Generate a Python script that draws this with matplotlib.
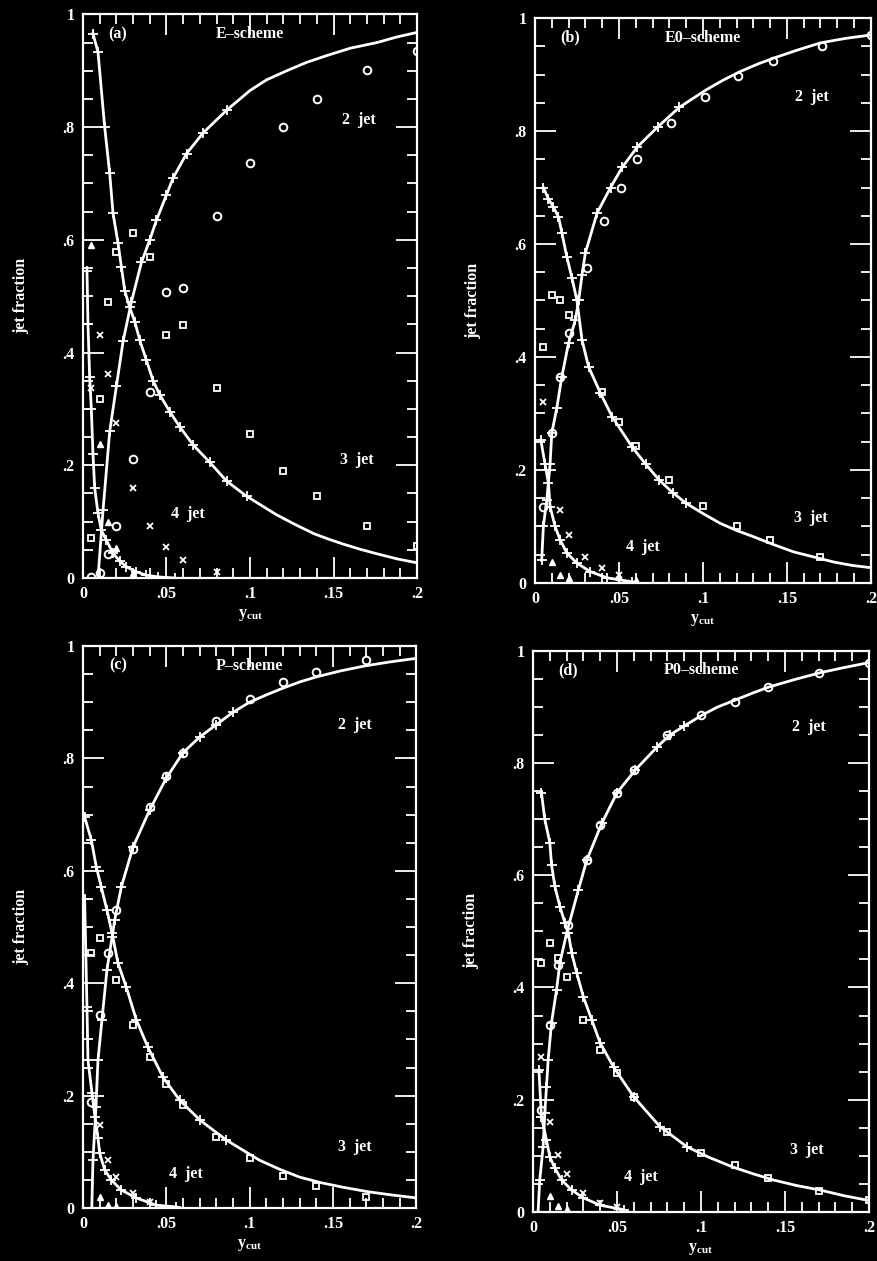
import matplotlib
matplotlib.use('Agg')
import matplotlib.pyplot as plt
from matplotlib.ticker import FixedLocator, FixedFormatter, MultipleLocator

plt.rcParams['font.family'] = ['Liberation Serif', 'DejaVu Serif']
plt.rcParams['font.weight'] = 'bold'
plt.rcParams['mathtext.fontset'] = 'custom'
plt.rcParams['mathtext.rm'] = 'Liberation Serif'
plt.rcParams['mathtext.bf'] = 'Liberation Serif:bold'

XTICKS = [0, 0.05, 0.1, 0.15, 0.2]
XTICK_LABELS = ['0', '.05', '.1', '.15', '.2']
YTICKS = [0, 0.2, 0.4, 0.6, 0.8, 1.0]
YTICK_LABELS = ['0', '.2', '.4', '.6', '.8', '1']

# ---- (a) E-scheme ----
a2_x = [0.009, 0.012, 0.016, 0.020, 0.024, 0.029, 0.035, 0.040, 0.044, 0.050, 0.054, 0.062,
        0.072, 0.086, 0.100, 0.110, 0.122, 0.134, 0.146, 0.160, 0.176, 0.188, 0.200]
a2_y = [0.0, 0.12, 0.26, 0.34, 0.42, 0.49, 0.56, 0.60, 0.635, 0.68, 0.71, 0.753,
        0.79, 0.83, 0.865, 0.884, 0.90, 0.915, 0.927, 0.94, 0.95, 0.96, 0.968]
a3_x = [0.006, 0.009, 0.013, 0.016, 0.018, 0.021, 0.023, 0.025, 0.028, 0.031, 0.034, 0.038,
        0.042, 0.046, 0.052, 0.058, 0.066, 0.076, 0.086, 0.098, 0.116, 0.127, 0.138, 0.147,
        0.156, 0.166, 0.176, 0.188, 0.200]
a3_y = [0.966, 0.933, 0.80, 0.718, 0.647, 0.594, 0.552, 0.51, 0.48, 0.455, 0.422, 0.386,
        0.35, 0.325, 0.295, 0.268, 0.236, 0.205, 0.172, 0.145, 0.112, 0.095, 0.079, 0.069,
        0.06, 0.051, 0.043, 0.034, 0.027]
a4_x = [0.0024, 0.003, 0.004, 0.005, 0.006, 0.007, 0.009, 0.011, 0.014, 0.018, 0.022, 0.026,
        0.032, 0.038, 0.045, 0.055]
a4_y = [0.545, 0.45, 0.357, 0.30, 0.22, 0.16, 0.115, 0.085, 0.067, 0.044, 0.03, 0.02,
        0.011, 0.005, 0.002, 0.0]
a_circ_x = [0.005, 0.010, 0.015, 0.020, 0.030, 0.040, 0.050, 0.060, 0.080, 0.100, 0.120, 0.140, 0.170, 0.200]
a_circ_y = [0.002, 0.009, 0.042, 0.092, 0.211, 0.33, 0.507, 0.515, 0.643, 0.737, 0.80, 0.849, 0.902, 0.935]
a_sq_x = [0.005, 0.010, 0.015, 0.020, 0.030, 0.040, 0.050, 0.060, 0.080, 0.100, 0.120, 0.140, 0.170, 0.200]
a_sq_y = [0.071, 0.317, 0.49, 0.578, 0.612, 0.569, 0.431, 0.449, 0.337, 0.255, 0.19, 0.146, 0.092, 0.057]
a_x4_x = [0.005, 0.010, 0.015, 0.020, 0.030, 0.040, 0.050, 0.060, 0.080]
a_x4_y = [0.337, 0.431, 0.362, 0.275, 0.16, 0.092, 0.055, 0.032, 0.011]
a_tri_x = [0.005, 0.010, 0.015, 0.020, 0.030]
a_tri_y = [0.59, 0.237, 0.10, 0.053, 0.009]

# ---- (b) E0-scheme ----
b2_x = [0.004, 0.005, 0.007, 0.009, 0.010, 0.013, 0.016, 0.020, 0.024, 0.026, 0.028, 0.030,
        0.037, 0.045, 0.052, 0.061, 0.073, 0.086, 0.102, 0.112, 0.122, 0.133, 0.144, 0.157,
        0.170, 0.185, 0.200]
b2_y = [0.04, 0.10, 0.147, 0.21, 0.265, 0.31, 0.365, 0.425, 0.465, 0.50, 0.545, 0.584,
        0.655, 0.70, 0.736, 0.772, 0.807, 0.842, 0.873, 0.89, 0.905, 0.919, 0.931, 0.944,
        0.956, 0.964, 0.97]
b3_x = [0.005, 0.008, 0.011, 0.014, 0.016, 0.019, 0.022, 0.025, 0.028, 0.032, 0.039, 0.046,
        0.058, 0.066, 0.074, 0.082, 0.090, 0.100, 0.110, 0.120, 0.130, 0.142, 0.154, 0.166,
        0.178, 0.189, 0.200]
b3_y = [0.70, 0.68, 0.665, 0.648, 0.62, 0.577, 0.54, 0.50, 0.43, 0.382, 0.336, 0.294,
        0.24, 0.21, 0.182, 0.16, 0.141, 0.123, 0.106, 0.093, 0.082, 0.068, 0.055, 0.046,
        0.037, 0.031, 0.027]
b4_x = [0.0035, 0.006, 0.008, 0.009, 0.012, 0.015, 0.019, 0.025, 0.033, 0.043, 0.058]
b4_y = [0.253, 0.21, 0.177, 0.135, 0.10, 0.076, 0.053, 0.035, 0.02, 0.009, 0.002]
b_circ_x = [0.005, 0.010, 0.015, 0.020, 0.031, 0.041, 0.051, 0.061, 0.081, 0.101, 0.121, 0.142, 0.171, 0.200]
b_circ_y = [0.135, 0.265, 0.365, 0.442, 0.557, 0.64, 0.70, 0.75, 0.815, 0.86, 0.897, 0.924, 0.95, 0.97]
b_sq_x = [0.005, 0.010, 0.015, 0.020, 0.040, 0.050, 0.060, 0.080, 0.100, 0.120, 0.140, 0.170]
b_sq_y = [0.418, 0.51, 0.50, 0.474, 0.338, 0.285, 0.242, 0.182, 0.136, 0.10, 0.076, 0.046]
b_x4_x = [0.005, 0.015, 0.020, 0.030, 0.040, 0.050]
b_x4_y = [0.32, 0.13, 0.085, 0.046, 0.027, 0.014]
b_tri_x = [0.010, 0.015, 0.020, 0.050, 0.060]
b_tri_y = [0.037, 0.014, 0.008, 0.010, 0.006]

# ---- (c) P-scheme ----
c2_x = [0.0053, 0.006, 0.0078, 0.009, 0.0114, 0.0144, 0.0175, 0.019, 0.023, 0.030, 0.040,
        0.050, 0.060, 0.070, 0.080, 0.090, 0.100, 0.110, 0.120, 0.130, 0.140, 0.155, 0.170,
        0.185, 0.200]
c2_y = [0.0, 0.085, 0.18, 0.263, 0.335, 0.424, 0.482, 0.512, 0.571, 0.642, 0.708,
        0.765, 0.81, 0.838, 0.86, 0.882, 0.90, 0.913, 0.925, 0.936, 0.945, 0.956, 0.965,
        0.972, 0.978]
c3_x = [0.001, 0.005, 0.008, 0.011, 0.0144, 0.0174, 0.021, 0.026, 0.032, 0.039, 0.048, 0.058,
        0.070, 0.086, 0.106, 0.118, 0.130, 0.143, 0.156, 0.171, 0.186, 0.200]
c3_y = [0.696, 0.655, 0.607, 0.571, 0.53, 0.49, 0.436, 0.393, 0.335, 0.286, 0.233, 0.192,
        0.157, 0.121, 0.085, 0.069, 0.055, 0.045, 0.037, 0.029, 0.023, 0.018]
c4_x = [0.001, 0.0024, 0.003, 0.0054, 0.0072, 0.009, 0.010, 0.013, 0.017, 0.023, 0.032, 0.044, 0.056]
c4_y = [0.55, 0.358, 0.263, 0.205, 0.162, 0.125, 0.098, 0.068, 0.05, 0.032, 0.018, 0.005, 0.002]
c_circ_x = [0.005, 0.010, 0.015, 0.020, 0.030, 0.040, 0.050, 0.060, 0.080, 0.100, 0.120, 0.140, 0.170]
c_circ_y = [0.189, 0.343, 0.454, 0.53, 0.639, 0.713, 0.769, 0.81, 0.867, 0.906, 0.936, 0.954, 0.975]
c_sq_x = [0.005, 0.010, 0.020, 0.030, 0.040, 0.050, 0.060, 0.080, 0.100, 0.120, 0.140, 0.170]
c_sq_y = [0.453, 0.48, 0.405, 0.325, 0.268, 0.22, 0.183, 0.126, 0.089, 0.057, 0.039, 0.019]
c_x4_x = [0.010, 0.015, 0.020, 0.030, 0.040]
c_x4_y = [0.148, 0.085, 0.056, 0.026, 0.011]
c_tri_x = [0.010, 0.015, 0.020]
c_tri_y = [0.02, 0.005, 0.004]

# ---- (d) P0-scheme ----
d2_x = [0.003, 0.004, 0.006, 0.007, 0.008, 0.009, 0.011, 0.014, 0.016, 0.020, 0.027, 0.032,
        0.041, 0.050, 0.061, 0.074, 0.0815, 0.090, 0.101, 0.110, 0.121, 0.131, 0.141, 0.156,
        0.171, 0.185, 0.200]
d2_y = [0.0, 0.057, 0.116, 0.176, 0.223, 0.271, 0.337, 0.396, 0.444, 0.497, 0.574, 0.627,
        0.693, 0.747, 0.788, 0.829, 0.85, 0.866, 0.886, 0.9, 0.913, 0.925, 0.936, 0.949,
        0.961, 0.97, 0.979]
d3_x = [0.005, 0.007, 0.010, 0.011, 0.013, 0.016, 0.019, 0.021, 0.023, 0.026, 0.030, 0.035,
        0.040, 0.048, 0.060, 0.0756, 0.0917, 0.105, 0.119, 0.131, 0.143, 0.157, 0.171, 0.185, 0.199]
d3_y = [0.747, 0.70, 0.658, 0.619, 0.58, 0.544, 0.515, 0.497, 0.462, 0.426, 0.383, 0.342,
        0.301, 0.258, 0.205, 0.152, 0.116, 0.097, 0.08, 0.068, 0.057, 0.047, 0.039, 0.029, 0.021]
d4_x = [0.0035, 0.005, 0.008, 0.010, 0.013, 0.017, 0.023, 0.030, 0.040, 0.054]
d4_y = [0.253, 0.17, 0.128, 0.098, 0.078, 0.057, 0.039, 0.025, 0.012, 0.004]
d_circ_x = [0.005, 0.010, 0.015, 0.021, 0.032, 0.040, 0.050, 0.060, 0.080, 0.100, 0.120, 0.140, 0.170, 0.200]
d_circ_y = [0.182, 0.333, 0.44, 0.512, 0.627, 0.69, 0.747, 0.788, 0.85, 0.886, 0.909, 0.936, 0.961, 0.979]
d_sq_x = [0.005, 0.010, 0.015, 0.020, 0.030, 0.040, 0.050, 0.060, 0.080, 0.100, 0.120, 0.140, 0.170, 0.200]
d_sq_y = [0.444, 0.48, 0.453, 0.419, 0.342, 0.289, 0.248, 0.205, 0.142, 0.105, 0.083, 0.06, 0.038, 0.021]
d_x4_x = [0.005, 0.010, 0.015, 0.020, 0.030, 0.040, 0.050]
d_x4_y = [0.277, 0.16, 0.101, 0.067, 0.034, 0.016, 0.008]
d_tri_x = [0.010, 0.015, 0.020]
d_tri_y = [0.028, 0.010, 0.006]

PANELS = [
    ('(a)', 'E–scheme', [0.0946, 0.5416, 0.381, 0.447],
     [(a2_x, a2_y), (a3_x, a3_y), (a4_x, a4_y)],
     (a_circ_x, a_circ_y), (a_sq_x, a_sq_y), (a_x4_x, a_x4_y), (a_tri_x, a_tri_y),
     [(0.165, 0.812), (0.164, 0.209), (0.063, 0.113)]),
    ('(b)', 'E0–scheme', [0.610, 0.5377, 0.383, 0.448],
     [(b2_x, b2_y), (b3_x, b3_y), (b4_x, b4_y)],
     (b_circ_x, b_circ_y), (b_sq_x, b_sq_y), (b_x4_x, b_x4_y), (b_tri_x, b_tri_y),
     [(0.165, 0.86), (0.164, 0.115), (0.064, 0.064)]),
    ('(c)', 'P–scheme', [0.0946, 0.042, 0.380, 0.4457],
     [(c2_x, c2_y), (c3_x, c3_y), (c4_x, c4_y)],
     (c_circ_x, c_circ_y), (c_sq_x, c_sq_y), (c_x4_x, c_x4_y), (c_tri_x, c_tri_y),
     [(0.163, 0.86), (0.163, 0.109), (0.062, 0.06)]),
    ('(d)', 'P0–scheme', [0.6078, 0.0389, 0.383, 0.445],
     [(d2_x, d2_y), (d3_x, d3_y), (d4_x, d4_y)],
     (d_circ_x, d_circ_y), (d_sq_x, d_sq_y), (d_x4_x, d_x4_y), (d_tri_x, d_tri_y),
     [(0.164, 0.865), (0.163, 0.11), (0.064, 0.063)]),
]

FG = 'white'
BG = 'black'
FS = 11.5

fig = plt.figure(figsize=(8.77, 12.61), dpi=100, facecolor=BG)

for tag, scheme, rect, curves, circ, sq, x4, tri, jet_pos in PANELS:
    ax = fig.add_axes(rect, facecolor=BG)
    ax.set_xlim(0, 0.2)
    ax.set_ylim(0, 1)

    # Monte Carlo curves: line with bin crosses at small ycut
    for cx, cy in curves:
        marks = [v < 0.1 for v in cx]
        ax.plot(cx, cy, color=FG, lw=2.0, marker='+', ms=6.5, mew=1.3, markevery=marks)

    # data points
    ax.plot(*circ, ls='none', marker='o', ms=5.5, mfc='none', mec=FG, mew=1.4)
    ax.plot(*sq, ls='none', marker='s', ms=3.8, mfc='none', mec=FG, mew=1.3)
    ax.plot(*x4, ls='none', marker='x', ms=4.2, mec=FG, mew=1.3)
    ax.plot(*tri, ls='none', marker='^', ms=3.8, mfc=FG, mec=FG)

    ax.text(0.021, 0.965, tag, color=FG, fontsize=FS, ha='center', va='center')
    ax.text(0.1, 0.965, scheme, color=FG, fontsize=FS, ha='center', va='center')
    for lab, (tx, ty) in zip(['2  jet', '3  jet', '4  jet'], jet_pos):
        ax.text(tx, ty, lab, color=FG, fontsize=FS, ha='center', va='center')

    ax.xaxis.set_major_locator(FixedLocator(XTICKS))
    ax.xaxis.set_major_formatter(FixedFormatter(XTICK_LABELS))
    ax.xaxis.set_minor_locator(MultipleLocator(0.01))
    ax.yaxis.set_major_locator(FixedLocator(YTICKS))
    ax.yaxis.set_major_formatter(FixedFormatter(YTICK_LABELS))
    ax.yaxis.set_minor_locator(MultipleLocator(0.05))
    ax.tick_params(which='both', direction='in', top=True, right=True,
                   colors=FG, labelcolor=FG, labelsize=FS, width=1.3)
    ax.tick_params(which='major', length=15, pad=6)
    ax.tick_params(which='minor', length=7)
    for sp in ax.spines.values():
        sp.set_color(FG)
        sp.set_linewidth(1.6)

    ax.text(0.5, -0.066, r'$\mathbf{y}_{\mathbf{cut}}$', transform=ax.transAxes,
            color=FG, fontsize=FS, ha='center', va='center')
    fig.text(rect[0] - 0.071, rect[1] + rect[3] / 2, 'jet fraction', rotation=90,
             color=FG, fontsize=FS, ha='center', va='center')

fig.savefig('out.png', dpi=100, facecolor=BG)
